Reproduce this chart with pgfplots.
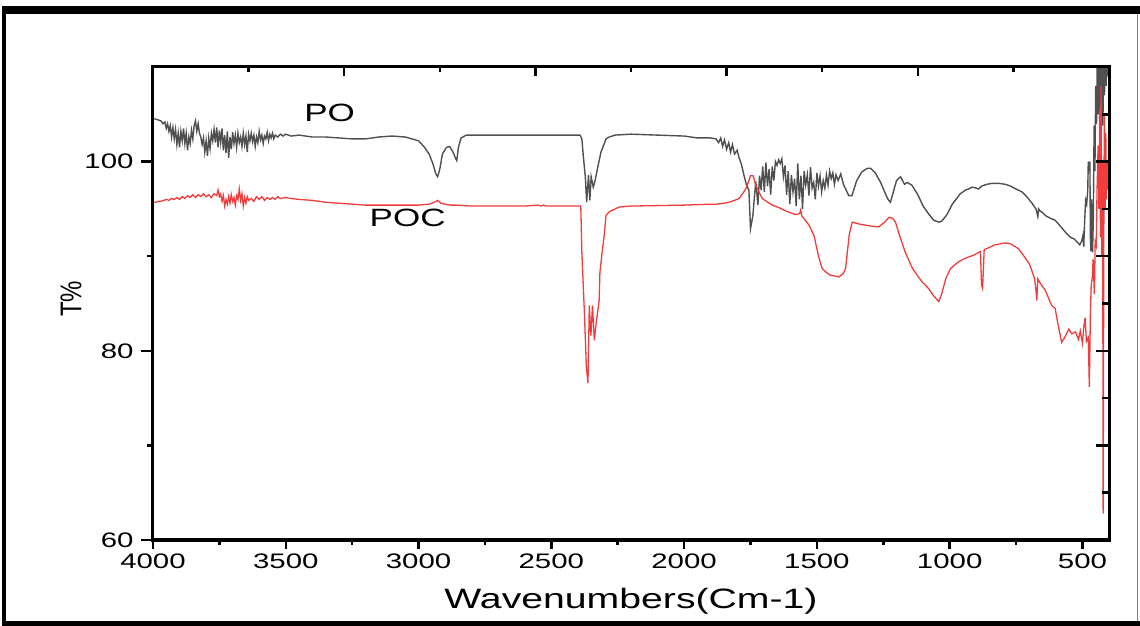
\documentclass[border=0pt]{standalone}
\usepackage{pgfplots}
\pgfplotsset{compat=1.18}
\usepackage{fontspec}
\setmainfont{Liberation Sans}[FakeStretch=1.4]
\newfontfamily\plainfont{Liberation Sans}
\definecolor{pogray}{RGB}{80,80,80}
\definecolor{pocred}{RGB}{240,60,60}
\pgfplotsset{
  base/.style={
    at={(0bp,0bp)}, anchor=south west, scale only axis,
    width=956bp, height=473bp,
    xmin=400, xmax=4000, ymin=60, ymax=110, x dir=reverse,
    axis line style={line width=3bp, line cap=rect},
    tick style={line width=2.5bp, black},
    tick label style={font=\fontsize{21bp}{25bp}\selectfont},
  }
}
\begin{document}
\begin{tikzpicture}
% bottom axis + data
\begin{axis}[base,
  axis x line*=bottom, axis y line=none,
  tick align=outside, major tick length=9bp, minor tick length=5bp,
  xtick={500,1000,1500,2000,2500,3000,3500,4000},
  xticklabels={500,1000,1500,2000,2500,3000,3500,4000},
  minor xtick={750,1250,1750,2250,2750,3250,3750},
  xticklabel style={yshift=-1bp},
]
% PO (gray)
\addplot[pogray, line width=1.4bp, line join=miter] coordinates {
(4000,104.5)(3990,104.5)(3980,104.4)(3970,104.3)(3962,104.0)(3955,104.2)(3950,103.5)(3945,104.0)
(3940,103.2)(3935,103.8)(3930,102.6)(3925,103.6)(3920,102.4)(3915,103.4)(3910,101.8)(3905,103.0)
(3900,101.5)(3895,103.2)(3890,102.2)(3885,103.5)(3880,101.9)(3875,103.0)(3870,101.2)(3865,102.6)
(3860,101.9)(3855,103.3)(3850,102.4)(3845,103.8)(3840,104.3)(3835,103.2)(3830,104.0)(3825,103.0)
(3820,102.6)(3815,101.8)(3810,102.5)(3805,101.0)(3800,102.2)(3795,100.6)(3790,102.5)(3785,101.4)
(3780,103.0)(3775,102.2)(3770,103.4)(3765,102.0)(3760,103.6)(3755,101.5)(3750,103.3)(3745,102.0)
(3740,103.5)(3735,101.2)(3730,102.8)(3725,100.9)(3720,103.2)(3715,100.4)(3710,102.6)(3705,101.3)
(3700,103.1)(3695,101.9)(3690,102.8)(3685,101.5)(3680,103.0)(3675,102.0)(3670,102.6)(3665,101.6)
(3660,103.0)(3655,101.8)(3650,102.7)(3645,101.0)(3640,102.9)(3635,102.2)(3630,103.0)(3625,102.1)
(3620,102.8)(3615,101.6)(3610,102.6)(3605,102.0)(3600,103.2)(3595,102.3)(3590,102.8)(3585,101.9)
(3580,102.7)(3575,102.4)(3570,103.1)(3565,102.2)(3560,102.9)(3555,102.5)(3550,103.0)(3545,102.4)
(3540,102.8)(3530,102.6)(3520,102.9)(3510,102.7)(3500,102.9)(3480,102.7)(3450,102.8)(3400,102.6)
(3350,102.6)(3300,102.5)(3250,102.4)(3200,102.4)(3150,102.6)(3100,102.7)(3050,102.6)(3000,102.2)
(2980,101.6)(2960,100.8)(2945,99.7)(2935,98.7)(2928,98.4)(2920,99.2)(2910,100.8)(2895,101.5)
(2883,101.6)(2870,101.0)(2860,100.3)(2856,100.1)(2850,101.5)(2840,102.5)(2820,102.8)(2700,102.8)
(2500,102.8)(2420,102.8)(2392,102.8)(2385,102.4)(2380,100.7)(2372,98.4)(2367,95.7)(2360,98.6)
(2355,95.9)(2350,98.4)(2342,97.3)(2335,98.0)(2326,99.3)(2313,101.0)(2294,102.4)(2282,102.6)
(2260,102.8)(2200,102.9)(2100,102.8)(2000,102.7)(1950,102.5)(1900,102.5)
(1880,102.4)(1870,102.0)(1862,102.5)(1855,101.6)(1848,102.3)(1840,101.3)(1832,102.0)(1825,101.0)
(1818,101.8)(1810,100.8)(1800,101.2)(1793,100.4)(1785,99.8)(1775,98.6)(1765,97.5)(1756,97.0)
(1750,92.9)(1746,93.5)(1741,94.3)(1736,96.0)(1730,97.9)(1722,95.4)(1716,98.5)(1710,97.0)
(1704,99.5)(1698,96.8)(1692,99.9)(1686,97.4)(1680,99.2)(1674,96.5)(1668,99.5)(1662,98.0)
(1656,100.0)(1650,99.6)(1644,100.2)(1638,99.8)(1632,100.3)(1626,98.4)(1620,99.6)(1614,96.5)
(1608,99.0)(1602,95.5)(1596,98.6)(1590,96.8)(1584,98.2)(1578,95.3)(1572,99.8)(1566,96.0)
(1560,98.5)(1554,95.0)(1548,99.0)(1542,97.5)(1536,98.6)(1530,96.4)(1524,99.4)(1518,97.2)
(1512,97.8)(1506,96.0)(1500,98.8)(1494,97.4)(1488,98.5)(1482,96.8)(1476,98.0)(1470,97.2)
(1464,98.6)(1458,97.5)(1452,99.0)(1446,98.2)(1440,98.8)(1434,97.6)(1428,98.6)(1420,98.0)
(1410,98.7)(1400,97.6)(1390,97.0)(1380,96.4)(1368,96.4)(1350,98.0)(1331,98.9)(1310,99.3)
(1298,99.3)(1280,98.8)(1260,97.8)(1245,96.8)(1232,96.0)(1223,95.7)(1212,96.8)(1200,98.0)
(1185,98.4)(1170,97.6)(1160,97.8)(1142,97.5)(1120,96.5)(1100,95.3)(1080,94.5)(1060,93.8)
(1040,93.6)(1030,93.7)(1010,94.4)(990,95.5)(960,96.6)(940,97.0)(929,97.1)(915,97.3)
(900,97.2)(891,97.1)(880,97.4)(860,97.6)(840,97.7)(816,97.7)(790,97.6)(770,97.4)
(750,97.1)(728,96.8)(710,96.3)(690,95.6)(675,95.0)(668,94.2)(665,95.0)(660,94.8)
(650,94.6)(640,94.3)(620,94.0)(603,93.8)(590,93.4)(575,92.9)(560,92.4)(545,92.0)
(530,91.8)(520,91.5)(510,91.2)(503,91.6)(498,92.2)(495,91.0)(492,93.5)(488,95.9)
(484,95.5)(480,97.0)(478,100.0)(475,99.5)(472,100.0)(470,92.0)(468,90.5)(465,96.0)
(462,90.4)(459,94.0)(456,103.8)(453,99.0)(450,108.0)(447,104.0)(444,111.0)(441,105.0)
(438,112.0)(435,104.5)(432,111.0)(429,106.0)(426,112.0)(423,103.8)(420,111.0)(417,107.0)
(414,112.0)(411,108.0)(408,111.0)(405,109.0)(402,112.0)(400,110.0)
};
% POC (red)
\addplot[pocred, line width=1.3bp, line join=miter] coordinates {
(4000,95.7)(3990,95.7)(3980,95.8)(3970,95.8)(3960,95.9)(3950,96.0)(3940,95.9)(3930,96.1)
(3920,96.0)(3910,96.2)(3900,96.0)(3890,96.3)(3880,96.1)(3870,96.4)(3860,96.2)(3850,96.5)
(3840,96.2)(3830,96.5)(3820,96.3)(3810,96.6)(3800,96.3)(3790,96.5)(3780,96.2)(3770,96.6)
(3760,96.4)(3755,97.0)(3750,96.3)(3745,96.6)(3740,95.8)(3735,96.4)(3730,95.3)(3725,96.0)
(3720,95.5)(3715,96.3)(3710,95.6)(3705,96.5)(3700,95.8)(3695,96.2)(3690,95.4)(3685,96.4)
(3680,96.0)(3675,97.1)(3670,95.9)(3665,96.6)(3660,95.3)(3655,96.2)(3650,95.6)(3645,96.3)
(3640,95.9)(3630,96.1)(3620,95.8)(3610,96.3)(3600,96.0)(3590,96.3)(3580,95.9)(3570,96.2)
(3560,96.0)(3550,96.2)(3540,96.0)(3530,96.3)(3520,96.1)(3500,96.2)(3480,96.1)(3450,96.0)
(3400,95.9)(3350,95.7)(3300,95.6)(3250,95.5)(3200,95.4)(3100,95.4)(3000,95.4)(2960,95.5)
(2940,95.7)(2928,95.9)(2915,95.6)(2900,95.5)(2880,95.4)(2860,95.4)(2800,95.3)(2700,95.3)
(2600,95.3)(2550,95.4)(2540,95.3)(2530,95.4)(2520,95.3)(2500,95.3)(2400,95.3)(2389,95.3)
(2385,90.4)(2376,84.4)(2368,78.3)(2362,76.6)(2357,84.8)(2351,81.6)(2345,84.8)(2338,81.1)
(2332,82.7)(2320,85.3)(2317,88.3)(2310,90.1)(2301,92.2)(2294,94.3)(2282,94.7)(2244,95.2)
(2200,95.3)(2000,95.4)(1900,95.5)(1880,95.5)(1850,95.6)(1831,95.7)(1810,95.9)(1793,96.1)
(1780,96.6)(1768,97.1)(1756,98.0)(1750,98.5)(1740,98.5)(1730,97.5)(1718,96.8)(1706,96.1)
(1690,95.8)(1668,95.4)(1640,95.1)(1618,94.8)(1600,94.6)(1580,94.4)(1565,94.5)(1561,94.9)
(1556,94.2)(1549,94.0)(1530,93.3)(1511,92.2)(1500,90.8)(1490,89.6)(1480,88.7)(1465,88.3)
(1450,88.0)(1430,87.9)(1417,87.8)(1400,88.2)(1392,88.7)(1385,90.5)(1378,92.3)(1367,93.6)
(1340,93.4)(1300,93.2)(1267,93.1)(1245,93.6)(1229,94.1)(1215,94.0)(1204,93.6)(1190,92.3)
(1167,90.4)(1140,88.7)(1120,87.9)(1104,87.3)(1080,86.6)(1060,85.8)(1041,85.2)(1030,86.0)
(1015,87.6)(997,88.7)(967,89.4)(940,89.8)(910,90.1)(891,90.4)(884,90.5)(880,87.0)
(876,86.6)(870,90.7)(860,90.8)(830,91.2)(791,91.4)(770,91.3)(741,90.8)(720,90.0)
(700,89.2)(691,88.5)(680,87.6)(675,86.4)(672,85.3)(668,87.6)(660,87.2)(640,86.4)
(628,85.6)(616,84.8)(603,84.5)(590,82.5)(578,80.9)(565,81.5)(551,82.3)(540,81.8)
(526,82.0)(515,81.2)(508,82.1)(500,80.8)(495,82.5)(490,83.5)(485,81.0)(478,81.4)
(474,76.2)(470,84.0)(467,86.9)(462,88.0)(460,89.7)(455,86.0)(452,91.5)(448,91.1)
(445,97.0)(441,101.7)(438,95.0)(435,105.5)(432,92.0)(430,108.0)(427,90.0)(424,100.0)
(422,62.8)(419,98.0)(417,104.9)(414,95.0)(412,103.0)(410,96.0)(407,100.0)(405,97.0)
(402,99.0)(400,98.0)
};
\node[font=\fontsize{25bp}{30bp}\selectfont] at (axis cs:3335,105.1) {PO};
\node[font=\fontsize{25bp}{30bp}\selectfont] at (axis cs:3041,94.0) {POC};
\end{axis}
% left axis
\begin{axis}[base,
  axis y line*=left, axis x line=none,
  tick align=outside, major tick length=12bp, minor tick length=6bp,
  ytick={60,80,100}, yticklabels={60,80,100}, minor ytick={70,90},
  yticklabel style={xshift=-4bp},
]
\end{axis}
% top axis
\begin{axis}[base,
  axis x line*=top, axis y line=none,
  tick align=inside, major tick length=9bp, minor tick length=5bp,
  xtick={400,1120,1840,2560,3280,4000}, xticklabels={},
  minor xtick={760,1480,2200,2920,3640},
]
\end{axis}
% right axis
\begin{axis}[base,
  axis y line*=right, axis x line=none,
  tick align=inside, major tick length=13bp, minor tick length=7bp,
  ytick={70,80,90,100}, yticklabels={},
  minor ytick={65,75,85,95,105},
]
\end{axis}
% axis labels
\node[font=\fontsize{28bp}{33bp}\selectfont] at (478bp,-61bp) {Wavenumbers(Cm-1)};
\node[rotate=90, font=\plainfont\fontsize{24bp}{29bp}\selectfont] at (-82bp,241bp) {\scalebox{1}[1.25]{T\%}};
% outer frame
\fill[black] (-151bp,526bp) rectangle (987bp,534bp);
\fill[black] (-151bp,-86bp) rectangle (-147bp,534bp);
\fill[black] (-151bp,-86bp) rectangle (987bp,-81bp);
\draw[gray, line width=1bp] (984bp,-81bp) -- (984bp,526bp);
\pgfresetboundingbox
\path[use as bounding box] (-153bp,-86bp) rectangle (987bp,540bp);
\end{tikzpicture}
\end{document}
